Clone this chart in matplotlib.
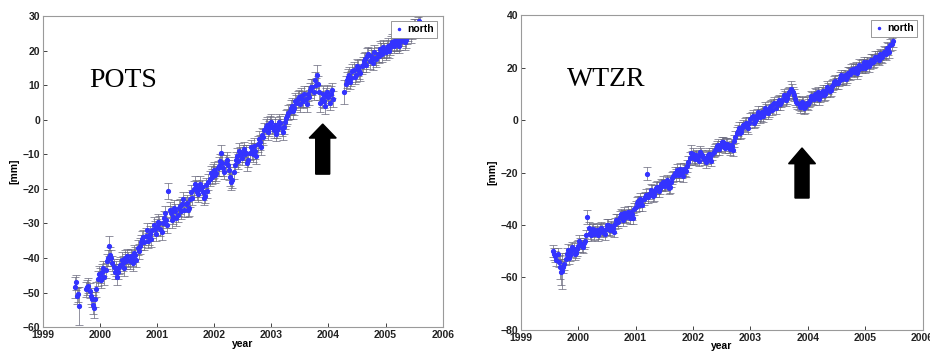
import numpy as np
import matplotlib
matplotlib.use("Agg")
from matplotlib import pyplot as plt
from matplotlib.patches import FancyArrow
from matplotlib.lines import Line2D

# north component [mm]; solutions every 0.04 yr from t0, plus the in-between
# solutions (offset by half a step). nan = no solution that week
pots_t0 = 1999.56
pots_n = [
    -48.5, -51, -54, np.nan, np.nan, -49, -48, -51, -53.5, -52, -46,
    -45, -44, -45.5, -41, -36.5, -40, -42.5, -43, -44, -42, -41.5, -40, -39.5,
    -41, -40, -38.5, -40.5, -38, -35.5, -34, -33.5, -35, -33, -32, -31.5,
    -31, -30, -32.5, -28.5, -29, -20.5, -27, -28, -26.5, -27.5, -25, -24.5, -26,
    -24, -25.5, -21, -20, -19.5, -21.5, -18.5, -21, -22, -20.5, -17, -16.5,
    -14.5, -15.5, -13.5, -9.5, -14, -12.5, -13, -16.5, -17.5, -13, -10.5, -9, -11,
    -8.5, -9.5, -11.5, -8, -10, -9, -7, -6.5, -4.5, -3, -1.5, -2.5,
    -0.5, -3, -4, -2, -1, -3.5, -0.5, 1, 2.5, 4, 3.5, 5, 6.5,
    7, 5.5, 6, 7.5, 8.5, 9.5, 11.5, 13, 8, 6, 5.5, 7,
    6.5, 7.5, 6, np.nan, np.nan, np.nan, np.nan, 8, 11.5, 13, 12, 14.5, 13,
    15, 13.5, 16, 17.5, 18.5, 17, 18, 19.5, 17.5, 18.5, 20, 21,
    19.5, 21.5, 21, 22.5, 23, 22, 21.5, 23.5, 24, 23, 25, 24.5, 26, 27, 27.5, 28,
]
pots_n_mid = [
    -47, -50.5, np.nan, np.nan, np.nan, -48.5, -49.5, -52, -54.5, -49, -44.5,
    -46.5, -43, -43.5, -40, -39, -41.5, -44, -45.5, -42.5, -40.5, -43, -41, -40.5,
    -39.5, -41.5, -39, -37, -36.5, -34.5, -35.5, -32, -34, -34.5, -30.5, -33,
    -29.5, -31.5, -30, -27, -30.5, -26, -29, -25.5, -28.5, -25.5, -26.5, -23, -24.5,
    -26, -23, -22.5, -18.5, -21, -20, -19.5, -22.5, -19, -18, -15.5, -15,
    -16, -14, -12, -12.5, -15, -11.5, -14.5, -18, -15, -11.5, -12, -10, -9.5,
    -10, -12.5, -9.5, -9, -7.5, -10.5, -5.5, -8, -5, -2, -3.5, -1,
    -2, -1.5, -3, -0.5, -2.5, -2, 0.5, 2, 3.5, 2.5, 5.5, 6, 4.5,
    6, 7.5, 4.5, 6.5, 9.5, 8, 10, 10.5, 5, 7.5, 4, 8,
    5, 8.5, np.nan, np.nan, np.nan, np.nan, np.nan, 10.5, 12.5, 11, 14, 12.5, 15.5,
    14, 15.5, 17, 16, 19, 18.5, 16.5, 18, 19, 20.5, 19, 20,
    20.5, 20, 22, 21.5, 22, 23.5, 22.5, 24.5, 22.5, 24, 26, 25.5, 27, 26, 28.5,
]
pots_big_err = {0: 3.0, 2: 5.5, 8: 2.8, 15: 2.8, 41: 2.3, 63: 2.8, 68: 2.8,
                106: 2.8, 118: 3.5}
pots_mid_big_err = {8: 2.8, 34: 2.5, 67: 2.8, 107: 2.8}

wtzr_t0 = 1999.56
wtzr_n = [
    -50, -52, -51, -56, -57.5, -55, -51, -52.5, -50, -49, -50.5,
    -48, -47, -48.5, -46, -37, -43, -42, -43.5, -42, -43, -41, -42.5, -41.5,
    -40, -42, -41, -39.5, -38, -37, -36.5, -35.5, -37, -36, -35, -37.5,
    -33, -31, -30, -32.5, -29.5, -20.5, -28, -27, -28.5, -26, -27, -24.5, -23.5,
    -25, -24, -25.5, -22, -20, -19, -21, -20, -18.5, -19.5, -16, -12.5,
    -13, -15, -14, -12, -13.5, -15, -14.5, -13, -15.5, -12, -11, -9.5, -10,
    -8.5, -10.5, -9, -11, -10, -8, -5, -3, -4.5, -2, -1, -3,
    0.5, 1.5, -0.5, 2, 1, 3, 2.5, 4, 3.5, 5.5, 6, 4.5, 7,
    6, 8, 9, 8.5, 10.5, 11, 9.5, 7, 6, 5.5, 6.5, 5,
    6, 7.5, 8.5, 10, 9, 8, 10.5, 9.5, 11, 12, 11.5, 13.5, 15,
    14, 16, 15.5, 17, 16.5, 18, 19, 18.5, 20, 19, 20.5, 21,
    20, 22, 21.5, 23, 22.5, 24, 23, 24.5, 26, 25, 27, 28.5, 30,
]
wtzr_n_mid = [
    -51, -53.5, -54, -58, -56, -53, -49.5, -51.5, -48.5, -51, -49,
    -46, -48, -47, -44, -41, -44, -41.5, -42.5, -44, -41.5, -42, -43.5, -40,
    -41.5, -40.5, -42.5, -38, -39, -36, -38, -36.5, -35, -37.5, -36, -34,
    -31.5, -32.5, -31, -30, -28.5, -29.5, -26.5, -29, -27, -25.5, -26, -25, -24.5,
    -23, -26, -23.5, -21.5, -21, -20, -18.5, -21.5, -19, -17.5, -14.5, -14,
    -14.5, -13.5, -15.5, -13, -14, -16, -13.5, -14, -13, -11.5, -10, -11, -8.5,
    -9.5, -9, -10.5, -9.5, -11.5, -6.5, -4, -5, -3, -1.5, -2.5, -1,
    1, -1, 0.5, 3, 2, 1.5, 4.5, 2.5, 5, 4, 6.5, 6, 7.5,
    7, 9.5, 7.5, 10, 12, 10.5, 8, 6.5, 5, 7, 4.5, 6.5,
    7, 9, 8, 9.5, 10.5, 9, 11, 10, 12.5, 11, 13, 14.5, 14,
    15, 17, 16, 15.5, 18, 17.5, 19.5, 19, 18, 21, 20, 22,
    21, 20.5, 23, 22, 24, 23.5, 25, 24, 25.5, 27.5, 26, 29,
]
wtzr_big_err = {3: 4.5, 4: 7.0, 15: 2.8, 41: 2.5, 60: 2.8, 104: 2.8}
wtzr_mid_big_err = {3: 5.0, 10: 2.8, 59: 2.5, 103: 2.8}

base_err = 2.2
step = 0.04
blue = "#3333ff"


def with_errors(values, big_err):
    err = np.full(len(values), base_err)
    for i, e in big_err.items():
        err[i] = e
    return err


def draw_station(ax, t0, north, north_mid, big_err, mid_big_err, name, ylim, yticks):
    north = np.array(north, dtype=float)
    north_mid = np.array(north_mid, dtype=float)
    t = np.concatenate([t0 + step * np.arange(len(north)),
                        t0 + step / 2 + step * np.arange(len(north_mid))])
    y = np.concatenate([north, north_mid])
    err = np.concatenate([with_errors(north, big_err),
                          with_errors(north_mid, mid_big_err)])
    ax.errorbar(t, y, yerr=err, fmt=".", color=blue, markersize=5.5,
                ecolor="#66667a", elinewidth=0.5, capsize=2.6, capthick=0.5)
    ax.set_xlim(1999, 2006)
    ax.set_ylim(*ylim)
    ax.set_xticks(range(1999, 2007))
    ax.set_yticks(yticks)
    ax.tick_params(direction="in", length=3, width=0.6, labelsize=7.5,
                   pad=2, colors="#222222")
    for lab in ax.get_xticklabels() + ax.get_yticklabels():
        lab.set_fontweight("bold")
    for sp in ax.spines.values():
        sp.set_color("#9a9a9a")
        sp.set_linewidth(0.8)
    ax.set_xlabel("year", fontsize=7.5, fontweight="bold", labelpad=-1)
    ax.set_ylabel("[mm]", fontsize=7.5, fontweight="bold", labelpad=2)
    handle = Line2D([], [], ls="none", marker=".", markersize=3, color=blue)
    leg = ax.legend([handle], ["north"], loc="upper right", fontsize=7.5,
                    handlelength=1.0, handletextpad=0.3, borderpad=0.3,
                    borderaxespad=0.5, fancybox=False, framealpha=1)
    leg.get_frame().set_edgecolor("#888888")
    leg.get_frame().set_linewidth(0.6)
    for txt in leg.get_texts():
        txt.set_fontweight("bold")
    ax.text(0.115, 0.794, name, transform=ax.transAxes, fontsize=20,
            family="Liberation Serif", va="center", ha="left")


plt.rcParams["font.family"] = ["Liberation Sans", "DejaVu Sans"]
fig = plt.figure(figsize=(9.3, 3.51), dpi=100)

ax1 = fig.add_axes([0.046, 0.068, 0.430, 0.886])
draw_station(ax1, pots_t0, pots_n, pots_n_mid, pots_big_err, pots_mid_big_err,
             "POTS", (-60, 30), range(-60, 31, 10))
ax1.add_patch(FancyArrow(0.70, 0.492, 0, 0.161, width=0.035, head_width=0.0675,
                         head_length=0.045, length_includes_head=True,
                         transform=ax1.transAxes, color="black"))

ax2 = fig.add_axes([0.560, 0.060, 0.432, 0.897])
draw_station(ax2, wtzr_t0, wtzr_n, wtzr_n_mid, wtzr_big_err, wtzr_mid_big_err,
             "WTZR", (-80, 40), range(-80, 41, 20))
ax2.add_patch(FancyArrow(0.70, 0.419, 0, 0.159, width=0.035, head_width=0.067,
                         head_length=0.05, length_includes_head=True,
                         transform=ax2.transAxes, color="black"))

fig.savefig("out.png", dpi=100)
